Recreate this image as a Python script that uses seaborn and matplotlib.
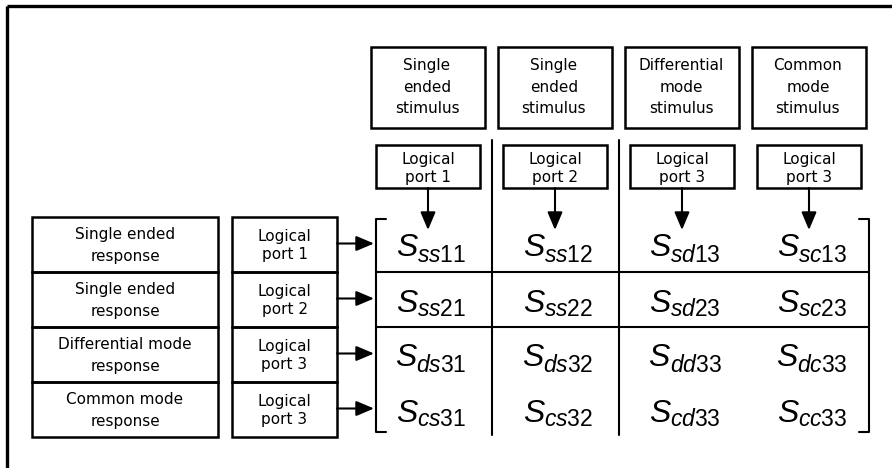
import numpy as np
import matplotlib
matplotlib.use("Agg")
import matplotlib.pyplot as plt
from matplotlib.patches import Rectangle
import seaborn as sns

# stimulus (columns) and response (rows) of the mixed-mode S-matrix
stimulus_labels = ["Single\nended\nstimulus", "Single\nended\nstimulus",
                   "Differential\nmode\nstimulus", "Common\nmode\nstimulus"]
stimulus_modes = ["s", "s", "d", "c"]
stimulus_ports = [1, 2, 3, 3]

response_labels = ["Single ended\nresponse", "Single ended\nresponse",
                   "Differential mode\nresponse", "Common mode\nresponse"]
response_modes = ["s", "s", "d", "c"]
response_ports = [1, 2, 3, 3]

sns.set_theme(style="white")
plt.rcParams["font.family"] = ["DejaVu Sans"]
plt.rcParams["text.color"] = "black"
plt.rcParams["mathtext.fontset"] = "custom"
plt.rcParams["mathtext.rm"] = "Liberation Sans"
plt.rcParams["mathtext.it"] = "Liberation Sans:italic"
plt.rcParams["mathtext.bf"] = "Liberation Sans:bold"

W, H = 892, 468
fig = plt.figure(figsize=(W / 100, H / 100), dpi=100)
ax = fig.add_axes([0, 0, 1, 1])
ax.set_xlim(0, W)
ax.set_ylim(H, 0)
ax.axis("off")

box_lw = 1.8
mat_lw = 1.5
arrow = dict(arrowstyle="-|>,head_length=0.9,head_width=0.38",
             color="black", lw=1.5, shrinkA=0, shrinkB=0)

# layout (pixels)
row_top, row_h = 217, 55
col_c0, col_w = 428, 127
n = len(response_labels)
row_c = [row_top + row_h * (i + 0.5) for i in range(n)]
col_c = [col_c0 + col_w * j for j in range(n)]


def box(x0, y0, w, h):
    ax.add_patch(Rectangle((x0, y0), w, h, fill=False, ec="black", lw=box_lw))


# outer frame
ax.plot([7, W], [6, 6], color="black", lw=2.4, solid_capstyle="butt")
ax.plot([7, 7], [6, H], color="black", lw=2.4, solid_capstyle="butt")

# header boxes and logical port boxes
for j in range(n):
    box(col_c[j] - 57, 47, 114, 81)
    ax.text(col_c[j] - 1, 87, stimulus_labels[j], ha="center", va="center",
            fontsize=11, linespacing=1.55)
    box(col_c[j] - 52, 145, 104, 43)
    ax.text(col_c[j], 168.5, "Logical\nport %d" % stimulus_ports[j], ha="center",
            va="center", fontsize=11, linespacing=1.3)
    ax.annotate("", xy=(col_c[j], 230), xytext=(col_c[j], 188), arrowprops=arrow)

# response boxes and logical port boxes on the left
for i in range(n):
    y0 = row_top + row_h * i
    box(32, y0, 186, row_h)
    ax.text(125, row_c[i] + 1, response_labels[i], ha="center", va="center",
            fontsize=11, linespacing=1.55)
    box(232, y0, 105, row_h)
    ax.text(284.5, row_c[i] + 1, "Logical\nport %d" % response_ports[i],
            ha="center", va="center", fontsize=11, linespacing=1.3)
    ax.annotate("", xy=(374, row_c[i] - 1), xytext=(337, row_c[i] - 1),
                arrowprops=arrow)

# matrix brackets and grid
x_left, x_right = 376, 869
y_top, y_bot = 219, 432
ax.plot([386, x_left, x_left, 386], [y_top, y_top, y_bot, y_bot],
        color="black", lw=mat_lw)
ax.plot([859, x_right, x_right, 859], [y_top, y_top, y_bot, y_bot],
        color="black", lw=mat_lw)
for k in (1, 2):
    ax.plot([x_left, x_right], [row_top + row_h * k] * 2, color="black", lw=mat_lw)
for k in (1, 2):
    xs = col_c0 + col_w * (k - 0.5)
    ax.plot([xs, xs], [140, 435], color="black", lw=mat_lw)

# matrix entries: big S with a subscript that sits a little below the baseline
renderer = fig.canvas.get_renderer()
for i in range(n):
    for j in range(n):
        base = row_c[i] + 12
        t1 = ax.text(0, base, "S", fontsize=23, fontstyle="italic",
                     family="Liberation Sans", ha="left", va="baseline")
        sub = r"$%s%s$%d%d" % (response_modes[i], stimulus_modes[j],
                              response_ports[i], stimulus_ports[j])
        t2 = ax.text(0, base + 5, sub, fontsize=16.5, family="Liberation Sans",
                     ha="left", va="baseline")
        w1 = t1.get_window_extent(renderer).width
        w2 = t2.get_window_extent(renderer).width
        x0 = col_c[j] + 3 - (w1 + w2) / 2
        t1.set_x(x0)
        t2.set_x(x0 + w1)

fig.savefig("out.png", dpi=100)
